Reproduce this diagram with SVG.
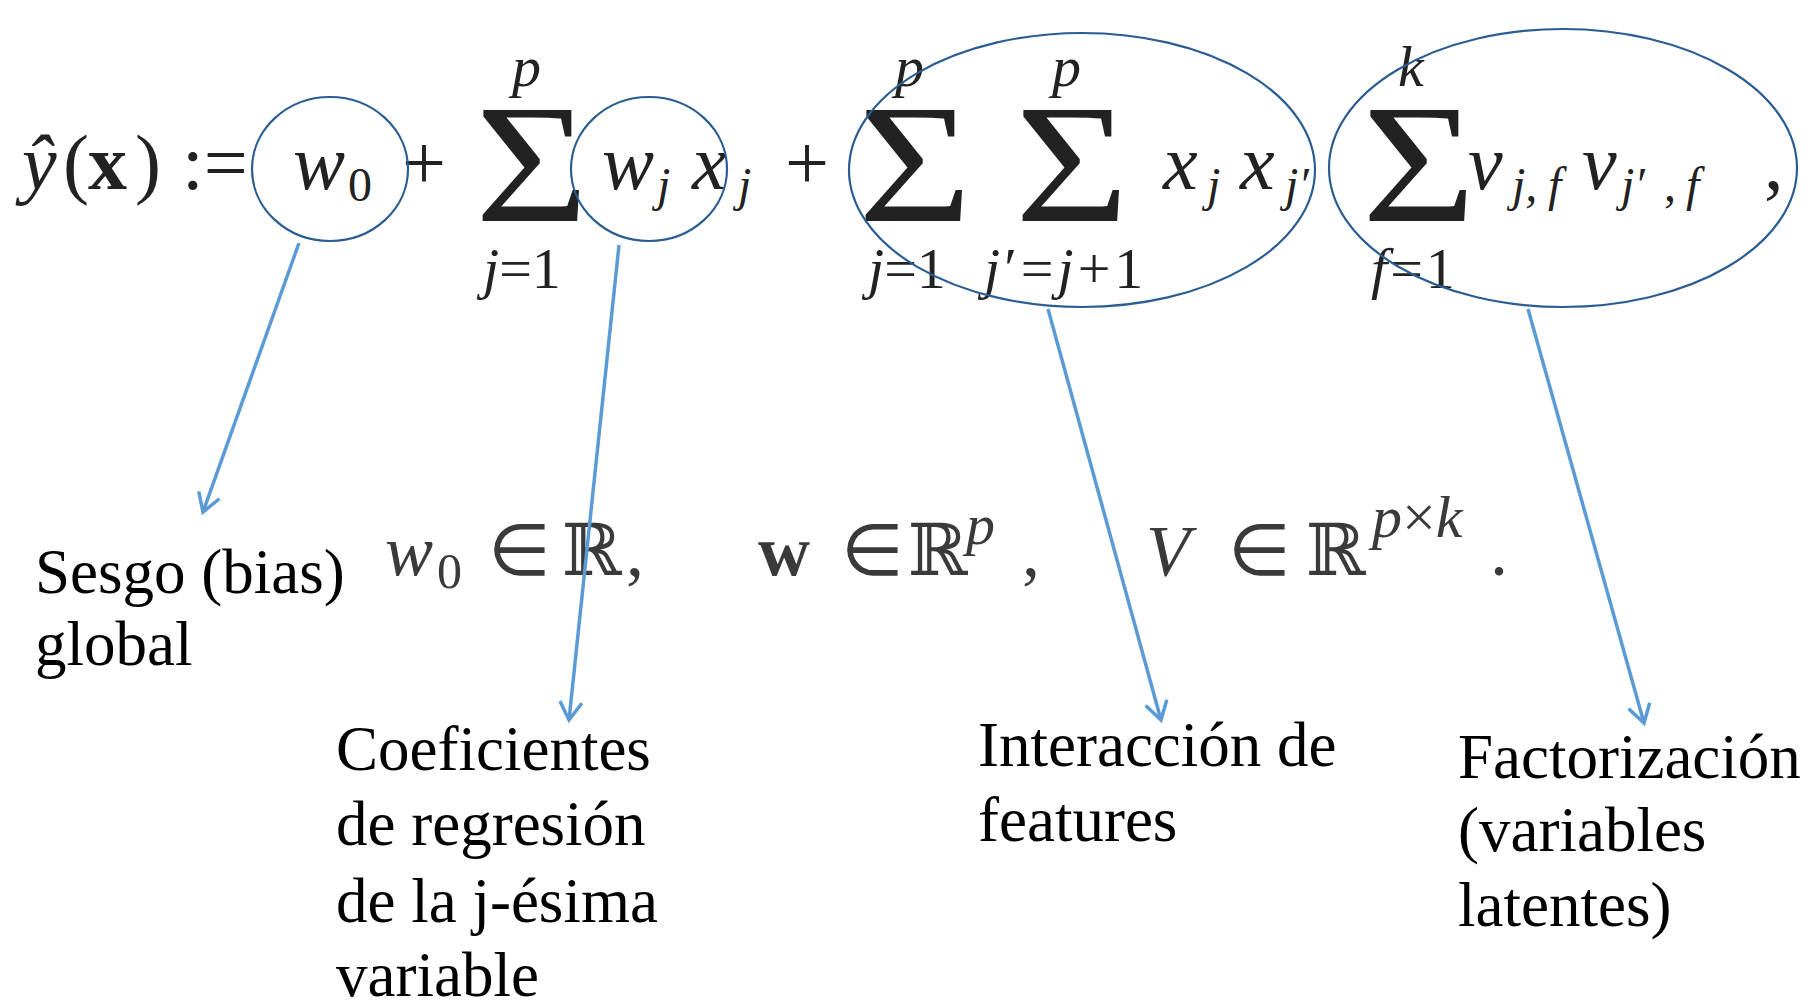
<svg xmlns="http://www.w3.org/2000/svg" width="1815" height="1002" viewBox="0 0 1815 1002">
<style>
.eq{font-family:"Liberation Serif","Times New Roman",serif;fill:#222;font-size:78px;}
.it{font-style:italic;}
.s{font-size:48px;}
.l{font-size:58px;}
.sig{font-family:"Liberation Serif","Times New Roman",serif;fill:#222;font-size:170px;}
.eq2{font-family:"Liberation Serif","Times New Roman",serif;fill:#3a3a3a;font-size:72px;}
.dbl{font-family:"DejaVu Serif",serif;font-size:72px;}
.lbl{font-family:"Liberation Serif","Times New Roman",serif;font-size:63px;fill:#000;}
.ring{fill:none;stroke:#2a5d93;stroke-width:2.2;}
.conn{fill:none;stroke:#5b9bd5;stroke-width:3.5;}
</style>
<defs>
<marker id="ah" markerUnits="userSpaceOnUse" markerWidth="30" markerHeight="30" viewBox="0 0 30 30" refX="26" refY="15" orient="auto">
<path d="M8,4 L26,15 L8,26" fill="none" stroke="#5b9bd5" stroke-width="3.5"/>
</marker>
</defs>
<rect width="1815" height="1002" fill="#fff"/>
<g id="formula">
<text class="eq"><tspan class="it" x="22" y="189">ŷ</tspan><tspan x="63" y="189">(</tspan><tspan x="88" y="189" font-weight="bold">x</tspan><tspan x="135" y="189">)</tspan><tspan x="182" y="189">:=</tspan><tspan class="it" x="293" y="189">w</tspan><tspan class="s" x="348" y="201">0</tspan><tspan x="402" y="189">+</tspan><tspan class="l it" x="512" y="86">p</tspan><tspan class="l" x="483" y="288"><tspan class="it">j</tspan>=1</tspan><tspan class="it" x="602" y="189">w</tspan><tspan class="s it" x="657" y="201">j</tspan><tspan class="it" x="692" y="189">x</tspan><tspan class="s it" x="738" y="201">j</tspan><tspan x="785" y="189">+</tspan><tspan class="l it" x="895" y="86">p</tspan><tspan class="l" x="868" y="288"><tspan class="it">j</tspan>=1</tspan><tspan class="l it" x="1052" y="86">p</tspan><tspan class="l" x="984" y="288" letter-spacing="4"><tspan class="it">j</tspan>′=<tspan class="it">j</tspan>+1</tspan><tspan class="it" x="1163" y="189">x</tspan><tspan class="s it" x="1207" y="201">j</tspan><tspan class="it" x="1240" y="189">x</tspan><tspan class="s it" x="1285" y="201">j′</tspan><tspan class="l it" x="1398" y="86">k</tspan><tspan class="l" x="1371" y="288" letter-spacing="3"><tspan class="it">f</tspan>=1</tspan><tspan class="it" x="1468" y="189">v</tspan><tspan class="s it" x="1512" y="201">j,</tspan><tspan class="s it" x="1548" y="201">f</tspan><tspan class="it" x="1582" y="189">v</tspan><tspan class="s it" x="1621" y="201">j′</tspan><tspan class="s" x="1664" y="201">,</tspan><tspan class="s it" x="1686" y="201">f</tspan><tspan x="1764" y="189">,</tspan></text>
<text class="sig" transform="translate(475,221) scale(1.15,1)">Σ</text>
<text class="sig" transform="translate(858,221) scale(1.15,1)">Σ</text>
<text class="sig" transform="translate(1015,221) scale(1.15,1)">Σ</text>
<text class="sig" transform="translate(1362,221) scale(1.15,1)">Σ</text>
</g>
<g id="domains">
<text class="eq2"><tspan class="it" x="385" y="575">w</tspan><tspan x="437" y="588" font-size="50">0</tspan><tspan x="488" y="575">∈</tspan><tspan class="dbl" x="562" y="575">ℝ</tspan><tspan x="626" y="575">,</tspan><tspan x="758" y="575" font-weight="bold">w</tspan><tspan x="841" y="575">∈</tspan><tspan class="dbl" x="908" y="575">ℝ</tspan><tspan class="it" x="966" y="544" font-size="58">p</tspan><tspan x="1022" y="575">,</tspan><tspan class="it" x="1146" y="575">V</tspan><tspan x="1228" y="575">∈</tspan><tspan class="dbl" x="1306" y="575">ℝ</tspan><tspan x="1372" y="537" font-size="60"><tspan class="it">p</tspan>×<tspan class="it">k</tspan></tspan><tspan x="1490" y="575">.</tspan></text>
</g>
<g id="ring-bias"><ellipse class="ring" cx="330" cy="169" rx="78" ry="72"/></g>
<g id="ring-linear"><ellipse class="ring" cx="649" cy="169" rx="78" ry="72"/></g>
<g id="ring-interaction"><ellipse class="ring" cx="1082" cy="170" rx="233" ry="137"/></g>
<g id="ring-factor"><ellipse class="ring" cx="1563" cy="168" rx="234" ry="139"/></g>
<g id="connectors">
<line class="conn" x1="299" y1="243" x2="203" y2="512" marker-end="url(#ah)"/>
<line class="conn" x1="619" y1="245" x2="569" y2="720" marker-end="url(#ah)"/>
<line class="conn" x1="1048" y1="309" x2="1161" y2="720" marker-end="url(#ah)"/>
<line class="conn" x1="1528" y1="309" x2="1644" y2="723" marker-end="url(#ah)"/>
</g>
<g id="label-bias" class="lbl">
<text x="35" y="593">Sesgo (bias)</text>
<text x="35" y="665">global</text>
</g>
<g id="label-linear" class="lbl">
<text x="336" y="770">Coeficientes</text>
<text x="336" y="845">de regresión</text>
<text x="336" y="922">de la j-ésima</text>
<text x="336" y="996">variable</text>
</g>
<g id="label-interaction" class="lbl">
<text x="978" y="766">Interacción de</text>
<text x="978" y="841">features</text>
</g>
<g id="label-factor" class="lbl">
<text x="1458" y="778">Factorización</text>
<text x="1458" y="851">(variables</text>
<text x="1458" y="926">latentes)</text>
</g>
</svg>
